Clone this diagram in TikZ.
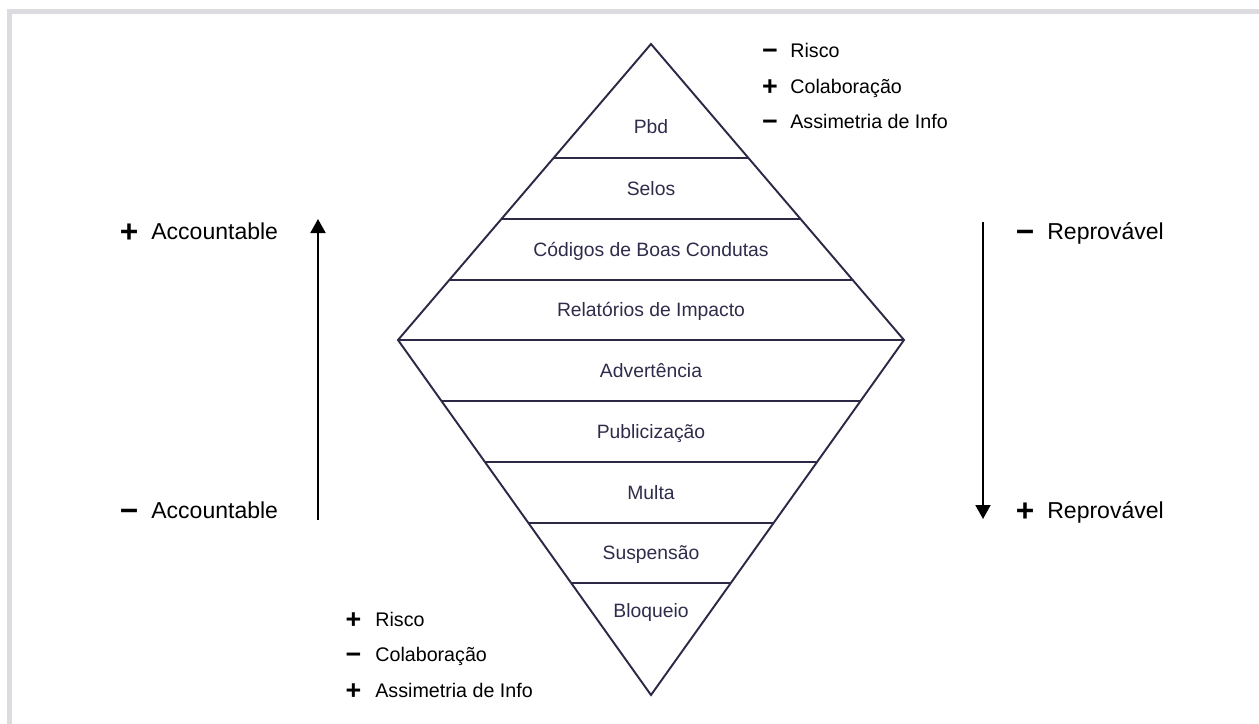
\documentclass[tikz,border=0pt]{standalone}
\usepackage{fontspec}
\setmainfont{Liberation Sans}
\usepackage{xcolor}
\usetikzlibrary{arrows.meta, calc}
\definecolor{diaink}{HTML}{2B2946}
\definecolor{lblink}{HTML}{2E2C4A}
\definecolor{framegray}{HTML}{DCDBDF}

\begin{document}
\begin{tikzpicture}[
  x=0.02cm, y=-0.02cm,
  every node/.style={inner sep=0pt},
  edge/.style={draw=diaink, line width=1.1pt, line join=miter},
  rung/.style={draw=diaink, line width=1.1pt},
  lvl/.style ={font=\fontsize{11}{13}\selectfont, text=lblink,
               text height=7.9pt, text depth=0pt},
  side/.style={font=\fontsize{13.1}{15}\selectfont, anchor=base west},
  note/.style={font=\fontsize{11.2}{13}\selectfont, anchor=base west},
  bigsgn/.style={font=\fontsize{18}{18}\selectfont\bfseries,
                 text height=12.6pt, text depth=0pt},
  smlsgn/.style={font=\fontsize{15.3}{15}\selectfont\bfseries,
                 text height=10.7pt, text depth=0pt},
  arr/.style={-{Triangle[length=0.28cm, width=0.3cm]}, line width=1.1pt}
]
\useasboundingbox (0,0) rectangle (1259,724);

%% ─── frame ─────────────────────────────────────────────────────────────────
\fill[framegray] (7,9) rectangle (1259,14);
\fill[framegray] (7,9) rectangle (12,724);

%% ─── diamond ───────────────────────────────────────────────────────────────
\coordinate (top) at (651,44);
\coordinate (lft) at (398,340);
\coordinate (rgt) at (904,340);
\coordinate (bot) at (651,695);
\draw[edge] (top) -- (lft) -- (bot) -- (rgt) -- cycle;
\draw[rung] (lft) -- (rgt);
\foreach \y in {158,219,280} {
  \pgfmathsetmacro\f{(\y-44)/296}
  \draw[rung] ($(top)!\f!(lft)$) -- ($(top)!\f!(rgt)$);
}
\foreach \y in {401,462,523,583} {
  \pgfmathsetmacro\f{(695-\y)/355}
  \draw[rung] ($(bot)!\f!(lft)$) -- ($(bot)!\f!(rgt)$);
}

\node[lvl] (lv_pbd)  at (651,127)   {Pbd};
\node[lvl] (lv_sel)  at (651,188.5) {Selos};
\node[lvl] (lv_cod)  at (651,249.5) {Códigos de Boas Condutas};
\node[lvl] (lv_rel)  at (651,310)   {Relatórios de Impacto};
\node[lvl] (lv_adv)  at (651,370.5) {Advertência};
\node[lvl] (lv_pub)  at (651,431.5) {Publicização};
\node[lvl] (lv_mul)  at (651,492.5) {Multa};
\node[lvl] (lv_sus)  at (651,553)   {Suspensão};
\node[lvl] (lv_blq)  at (651,611)   {Bloqueio};

%% ─── side scales ───────────────────────────────────────────────────────────
\coordinate (acc_lo) at (318,520);
\coordinate (acc_hi) at (318,219);
\draw[arr] (acc_lo) -- (acc_hi);
\coordinate (rep_hi) at (983,222);
\coordinate (rep_lo) at (983,519);
\draw[arr] (rep_hi) -- (rep_lo);

\node[bigsgn] (acc_p)  at (129,231)  {+};
\node[side]   (acc_pt) at (151,239)  {Accountable};
\node[bigsgn] (acc_m)  at (129,510)  {−};
\node[side]   (acc_mt) at (151,518)  {Accountable};
\node[bigsgn] (rep_m)  at (1025,231) {−};
\node[side]   (rep_mt) at (1047,239) {Reprovável};
\node[bigsgn] (rep_p)  at (1025,510) {+};
\node[side]   (rep_pt) at (1047,518) {Reprovável};

%% ─── top / bottom notes ────────────────────────────────────────────────────
\foreach \s/\t/\y/\n in {−/Risco/57/r, +/Colaboração/93/c, −/Assimetria de Info/128/a} {
  \node[smlsgn] (tn_\n s) at (770,\y-6.5) {\s};
  \node[note]   (tn_\n)   at (790,\y)     {\t};
}
\foreach \s/\t/\y/\n in {+/Risco/626/r, −/Colaboração/661/c, +/Assimetria de Info/697/a} {
  \node[smlsgn] (bn_\n s) at (353.5,\y-6.5) {\s};
  \node[note]   (bn_\n)   at (375,\y)       {\t};
}

\end{tikzpicture}
\end{document}
